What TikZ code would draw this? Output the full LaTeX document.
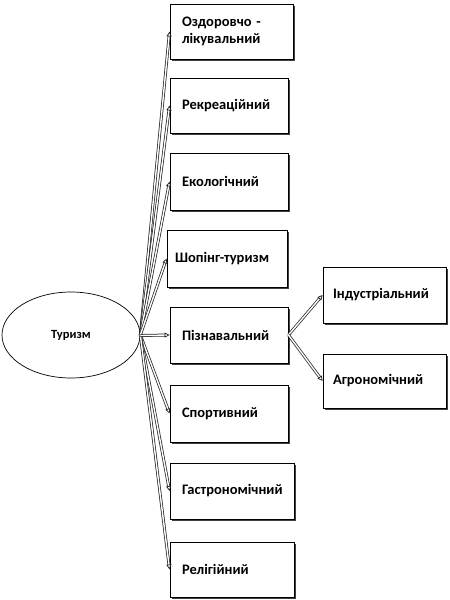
\documentclass[tikz,border=0pt]{standalone}
\usepackage{fontspec}
\setmainfont{Carlito}
\usetikzlibrary{shapes.geometric,arrows.meta,shadows}
\begin{document}
\begin{tikzpicture}[x=1pt,y=-1pt,
  box/.style={draw=black, line width=0.9pt, fill=white, align=left, inner xsep=12pt, inner ysep=0pt,
     font=\fontsize{14.5}{17}\selectfont\bfseries,
     drop shadow={shadow xshift=1.6pt, shadow yshift=-1.6pt, fill=black!75, opacity=1}},
  oval/.style={draw=black, ellipse, line width=0.7pt, inner sep=0pt, font=\fontsize{12.5}{14}\selectfont\bfseries},
  arr/.style={draw=black!85, double=white, double distance=1.4pt, line width=0.75pt,
     -{Triangle[open, length=5pt, width=5pt]}}
]
\useasboundingbox (0,0) rectangle (450,600);
\node[oval, minimum width=138pt, minimum height=86pt] (tur) at (71,335) {Туризм};
\node[box, text width=99pt, minimum height=55pt] (b1) at (231.5,31.5) {Оздоровчо -\\лікувальний};
\node[box, text width=94pt, minimum height=55pt] (b2) at (229,105.5) {Рекреаційний};
\node[box, text width=94pt, minimum height=57pt] (b3) at (229,181.5) {Екологічний};
\node[box, inner xsep=8pt, text width=104pt, minimum height=57pt] (b4) at (227,258.5) {Шопінг-туризм};
\node[box, text width=94pt, minimum height=56pt] (b5) at (229,335) {Пізнавальний};
\node[box, text width=94pt, minimum height=57pt] (b6) at (229,413.5) {Спортивний};
\node[box, text width=100pt, minimum height=56pt] (b7) at (232,491) {Гастрономічний};
\node[box, text width=100pt, minimum height=55pt] (b8) at (232,569.5) {Релігійний};
\node[box, inner xsep=10pt, text width=103pt, minimum height=56pt] (ind) at (384.5,295) {Індустріальний};
\node[box, inner xsep=10pt, text width=103pt, minimum height=54pt] (agr) at (384.5,381) {Агрономічний};
\foreach \b in {b1,b2,b3,b4,b6,b7,b8}
  \draw[arr] (tur.east) -- (\b.west);
\draw[arr] ([yshift=-0.5pt]tur.east) -- (b5.west);
\draw[arr] (b5.east) -- (ind.west);
\draw[arr] (b5.east) -- (agr.west);
\end{tikzpicture}
\end{document}
